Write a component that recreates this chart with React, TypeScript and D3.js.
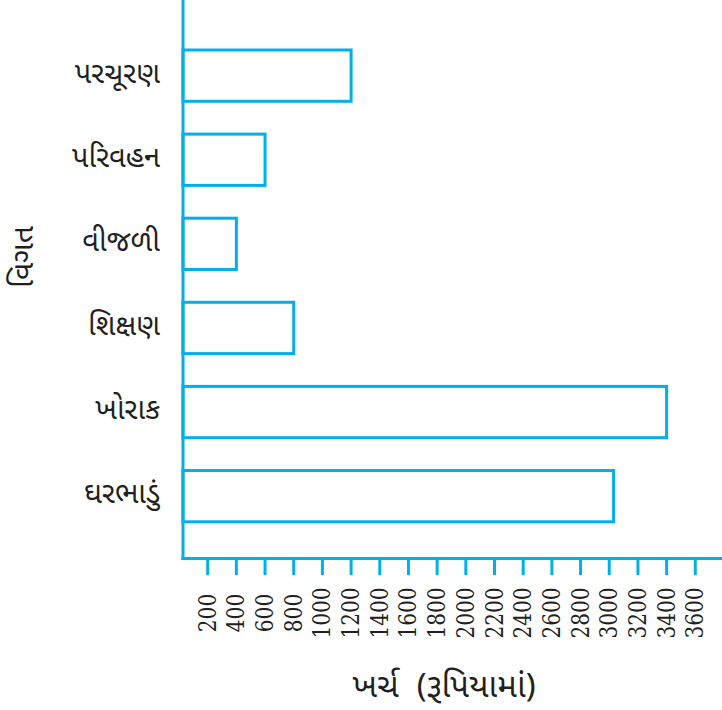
import React from "react";
import * as d3 from "d3";

const categories = ["પરચૂરણ", "પરિવહન", "વીજળી", "શિક્ષણ", "ખોરાક", "ઘરભાડું"];
const values = [1200, 600, 400, 800, 3400, 3030];
const ticks = [200, 400, 600, 800, 1000, 1200, 1400, 1600, 1800, 2000, 2200, 2400, 2600, 2800, 3000, 3200, 3400, 3600];
const xLabelParts = ["ખર્ચ", "(રૂપિયામાં)"];
const yLabel = "વિગત";

const W = 722;
const H = 710;
const COLOR = "#00b0ec";
const GUJ = "'Noto Sans Gujarati', 'Lohit Gujarati', 'Shruti', 'Noto Sans', sans-serif";
const SERIF = "'DejaVu Serif', 'Liberation Serif', serif";

export default function App() {
  const x = d3.scaleLinear().domain([0, 3600]).range([179, 695.3]);
  const y = d3
    .scaleBand<string>()
    .domain(categories)
    .range([33.6, 538.2])
    .paddingInner(0.39)
    .paddingOuter(0.195);
  const axisX = 183;
  const axisY = 558.5;

  return (
    <svg
      width={W}
      height={H}
      style={{ position: "absolute", left: 0, top: 0, background: "#fff" }}
    >
      {categories.map((c, i) => (
        <rect
          key={c}
          x={axisX}
          y={y(c)!}
          width={x(values[i]) - axisX}
          height={y.bandwidth()}
          fill="#fff"
          stroke={COLOR}
          strokeWidth={3}
        />
      ))}
      <line x1={axisX} x2={axisX} y1={0} y2={axisY + 1.5} stroke={COLOR} strokeWidth={3} />
      <line x1={axisX - 1.5} x2={W} y1={axisY} y2={axisY} stroke={COLOR} strokeWidth={3} />
      {ticks.map((t) => {
        const s = String(t);
        return (
          <g key={t}>
            <line x1={x(t)} x2={x(t)} y1={axisY} y2={575} stroke={COLOR} strokeWidth={3} />
            <text
              transform={`translate(${x(t)},613) rotate(-90)`}
              textAnchor="middle"
              dominantBaseline="central"
              textLength={s.length * 12.8}
              lengthAdjust="spacingAndGlyphs"
              style={{ fontFamily: SERIF, fontSize: 24 }}
              fill="#231f20"
            >
              {s}
            </text>
          </g>
        );
      })}
      {categories.map((c) => (
        <text
          key={c}
          x={160}
          y={y(c)! + y.bandwidth() / 2}
          textAnchor="end"
          dominantBaseline="central"
          style={{ fontFamily: GUJ, fontSize: 29 }}
          fill="#231f20"
        >
          {c}
        </text>
      ))}
      <text
        x={444}
        y={697}
        textAnchor="middle"
        style={{ fontFamily: GUJ, fontSize: 33 }}
        fill="#231f20"
      >
        <tspan>{xLabelParts[0]}</tspan>
        <tspan dx={18}>{xLabelParts[1]}</tspan>
      </text>
      <text
        transform="translate(25,257) rotate(-90)"
        textAnchor="middle"
        dominantBaseline="central"
        style={{ fontFamily: GUJ, fontSize: 30 }}
        fill="#231f20"
      >
        {yLabel}
      </text>
    </svg>
  );
}
